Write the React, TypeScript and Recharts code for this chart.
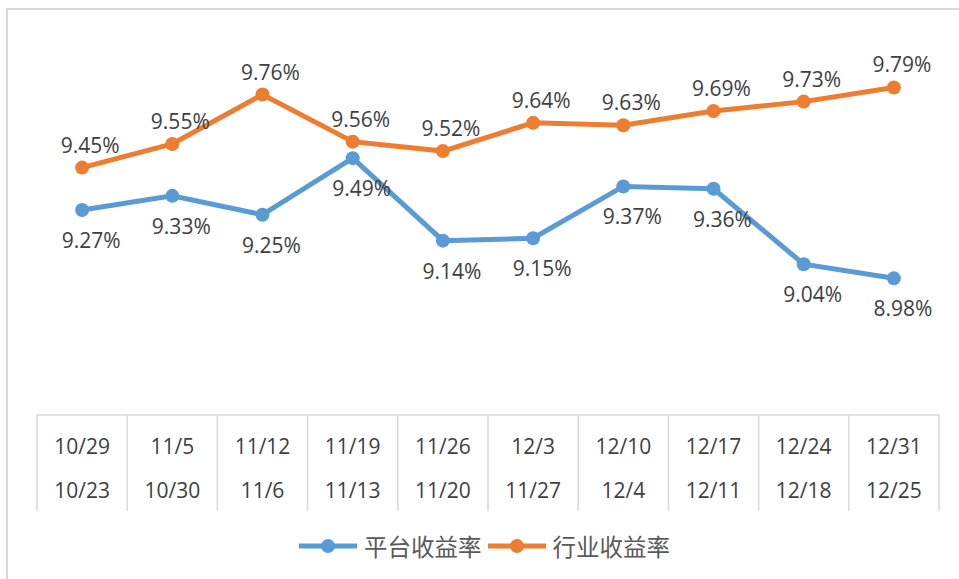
import React from 'react';
import { LineChart, Line, XAxis, YAxis, LabelList } from 'recharts';

const weekEnds = ['10/29', '11/5', '11/12', '11/19', '11/26', '12/3', '12/10', '12/17', '12/24', '12/31'];
const weekStarts = ['10/23', '10/30', '11/6', '11/13', '11/20', '11/27', '12/4', '12/11', '12/18', '12/25'];
const platformRate = [9.27, 9.33, 9.25, 9.49, 9.14, 9.15, 9.37, 9.36, 9.04, 8.98];
const industryRate = [9.45, 9.55, 9.76, 9.56, 9.52, 9.64, 9.63, 9.69, 9.73, 9.79];

const SERIES_PLATFORM = '平台收益率';
const SERIES_INDUSTRY = '行业收益率';

const data = weekEnds.map((w, i) => ({
  week: w,
  start: weekStarts[i],
  platform: platformRate[i],
  industry: industryRate[i],
}));

const W = 959;
const H = 579;
const MARGIN = { top: 38, right: 20, bottom: 64, left: 37 };
const XAXIS_H = 100;
const PLOT_BOTTOM = H - MARGIN.bottom - XAXIS_H;
const BAND = (W - MARGIN.left - MARGIN.right) / weekEnds.length;

const BLUE = '#5B9BD5';
const ORANGE = '#ED7D31';
const GRID = '#d9d9d9';
const TEXT = '#404040';
const NUM_FONT = '"Open Sans", "Noto Sans", sans-serif';
const CJK_FONT = '"Noto Sans CJK SC", sans-serif';

const CategoryTick = (props: any) => {
  const { x, payload, index } = props;
  const left = x - BAND / 2;
  const right = x + BAND / 2;
  const isLast = index === weekEnds.length - 1;
  return (
    <g>
      <line x1={left} x2={left} y1={PLOT_BOTTOM} y2={PLOT_BOTTOM + 96} stroke={GRID} strokeWidth={1.5} />
      {isLast && (
        <line x1={right} x2={right} y1={PLOT_BOTTOM} y2={PLOT_BOTTOM + 96} stroke={GRID} strokeWidth={1.5} />
      )}
      <text x={x} y={PLOT_BOTTOM + 31} textAnchor="middle" dominantBaseline="central" fontSize={21} fill={TEXT} fontFamily={NUM_FONT}>
        {payload.value}
      </text>
      <text x={x} y={PLOT_BOTTOM + 75} textAnchor="middle" dominantBaseline="central" fontSize={21} fill={TEXT} fontFamily={NUM_FONT}>
        {weekStarts[index]}
      </text>
    </g>
  );
};

const makeLabel = (dx: number, dy: number) => (props: any) => {
  const { x, y, value } = props;
  return (
    <text x={x + dx} y={y + dy} textAnchor="middle" dominantBaseline="central" fontSize={21} fill={TEXT} fontFamily={NUM_FONT}>
      {`${Number(value).toFixed(2)}%`}
    </text>
  );
};

const LegendItem = ({ color, label }: { color: string; label: string }) => (
  <div style={{ display: 'flex', alignItems: 'center', marginRight: 6 }}>
    <svg width={58} height={16}>
      <line x1={0} x2={58} y1={8} y2={8} stroke={color} strokeWidth={5} />
      <circle cx={29} cy={8} r={7} fill={color} />
    </svg>
    <span style={{ marginLeft: 7, fontSize: 23.5, color: '#595959', fontFamily: CJK_FONT, lineHeight: '28px' }}>{label}</span>
  </div>
);

export default function App() {
  return (
    <div style={{ position: 'fixed', left: 0, top: 0, width: W, height: H, overflow: 'hidden', background: '#fff' }}>
      <div
        style={{
          position: 'absolute',
          left: 6,
          top: 8,
          width: 1200,
          height: 800,
          borderLeft: `2px solid ${GRID}`,
          borderTop: `2px solid ${GRID}`,
        }}
      />
      <div style={{ position: 'absolute', left: 0, top: 0 }}>
        <LineChart width={W} height={H} data={data} margin={MARGIN}>
          <XAxis
            dataKey="week"
            interval={0}
            height={XAXIS_H}
            padding={{ left: BAND / 2, right: BAND / 2 }}
            axisLine={{ stroke: GRID, strokeWidth: 1.5 }}
            tickLine={false}
            tick={<CategoryTick />}
          />
          <YAxis hide domain={[8.4, 10.0]} />
          <Line
            dataKey="platform"
            name={SERIES_PLATFORM}
            stroke={BLUE}
            strokeWidth={5}
            dot={{ r: 7, fill: BLUE, stroke: 'none' }}
            isAnimationActive={false}
          >
            <LabelList dataKey="platform" content={makeLabel(9, 30)} />
          </Line>
          <Line
            dataKey="industry"
            name={SERIES_INDUSTRY}
            stroke={ORANGE}
            strokeWidth={5}
            dot={{ r: 7, fill: ORANGE, stroke: 'none' }}
            isAnimationActive={false}
          >
            <LabelList dataKey="industry" content={makeLabel(8, -23)} />
          </Line>
        </LineChart>
      </div>
      <div style={{ position: 'absolute', left: 299, top: 532, display: 'flex', alignItems: 'center' }}>
        <LegendItem color={BLUE} label={SERIES_PLATFORM} />
        <LegendItem color={ORANGE} label={SERIES_INDUSTRY} />
      </div>
    </div>
  );
}
